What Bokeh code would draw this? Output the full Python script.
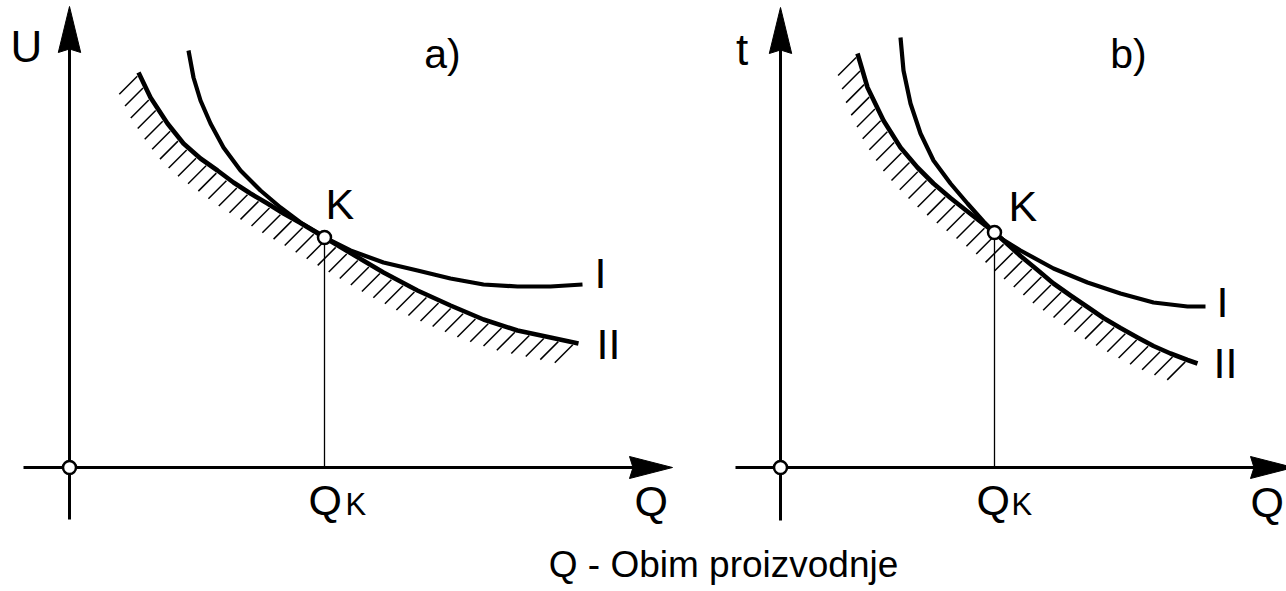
import numpy as np
from bokeh.plotting import figure
from bokeh.models import Range1d
from bokeh.core.properties import value
from bokeh.embed import file_html
from bokeh.resources import INLINE

# ---------------- data (arbitrary units) ----------------
# Panel a) : costs U against output Q
QA_I = [11.9, 12.4, 13.1, 14.1, 15.4, 17.1, 19.1, 21.1, 23.1, 24.8, 25.5, 28.1, 31.4, 34.8, 38.1, 41.4, 44.8, 48.1, 51.3]
UA_I = [41.7, 39.0, 36.7, 34.4, 32.0, 29.7, 27.7, 26.0, 24.5, 23.5, 23.0, 21.7, 20.5, 19.7, 18.9, 18.3, 18.1, 18.1, 18.3]
QA_II = [6.9, 8.1, 9.8, 11.4, 13.1, 14.8, 16.4, 18.1, 19.8, 21.4, 23.1, 25.5, 28.1, 31.4, 34.8, 38.1, 41.4, 44.8, 48.1, 50.9]
UA_II = [39.5, 37.0, 34.4, 32.4, 30.9, 29.7, 28.5, 27.4, 26.4, 25.4, 24.45, 23.0, 21.45, 19.5, 17.7, 16.2, 14.8, 13.7, 13.0, 12.4]
QK_A, UK_A = 25.5, 23.0

# Panel b) : time t against output Q
QB_I = [12.0, 12.3, 13.0, 14.0, 15.3, 17.0, 18.7, 20.3, 21.4, 22.3, 24.0, 27.3, 30.7, 34.0, 37.3, 40.7, 42.5]
TB_I = [43.0, 39.7, 36.4, 33.4, 30.7, 28.4, 26.4, 24.6, 23.5, 22.75, 21.7, 19.9, 18.5, 17.4, 16.5, 16.1, 16.1]
QB_II = [7.7, 8.7, 10.3, 12.0, 13.7, 15.3, 17.0, 18.7, 20.3, 21.4, 22.3, 24.0, 25.7, 27.3, 29.0, 30.7, 32.3, 34.0, 35.7, 37.3, 39.0, 40.7, 41.7]
TB_II = [41.4, 38.0, 34.7, 32.0, 30.0, 28.4, 26.95, 25.6, 24.35, 23.5, 22.7, 21.15, 19.75, 18.4, 17.2, 16.05, 14.95, 13.95, 13.0, 12.15, 11.4, 10.75, 10.4]
QK_B, TK_B = 21.4, 23.5

# axis extents (start, arrow tip)
QAXIS_A = (-4.6, 60.3)
UAXIS_A = (-5.2, 46.1)
QAXIS_B = (-4.5, 51.3)
TAXIS_B = (-5.3, 46.0)

FONT = value("Liberation Sans")

p = figure(width=1286, height=591,
           x_range=Range1d(-6.9, 121.7), y_range=Range1d(-12.4, 46.7),
           output_backend="svg", toolbar_location=None, min_border=0,
           x_axis_type=None, y_axis_type=None)
p.extra_x_ranges = {"b": Range1d(-78.0, 50.6)}
p.outline_line_color = None
p.background_fill_color = "white"
p.border_fill_color = "white"


def panel(qI, uI, qII, uII, qk, uk, qaxis, uaxis, rk):
    kw = {} if rk is None else {"x_range_name": rk}
    qI, uI, qII, uII = map(np.asarray, (qI, uI, qII, uII))

    # hatching under curve II: parallel "/" strokes (constant Q-U along each stroke)
    c = qII - uII
    step = 1.76
    cvals = np.arange(c[0] + 0.25, c[-1], step)
    hq = np.interp(cvals, c, qII)
    hu = np.interp(cvals, c, uII)
    p.segment(x0=hq - 0.2, y0=hu - 0.2, x1=hq - 2.0, y1=hu - 2.0,
              line_color="black", line_width=1.5, **kw)

    # axes
    hl_h, hw_h = 4.3, 1.1
    hl_v, hw_v = 4.6, 1.12
    notch = 0.35
    p.segment(x0=[qaxis[0], 0], y0=[0, uaxis[0]],
              x1=[qaxis[1] - hl_h + 0.5, 0], y1=[0, uaxis[1] - hl_v + 0.5],
              line_color="black", line_width=3, **kw)
    tq, tu = qaxis[1], uaxis[1]
    p.patches(xs=[[tq, tq - hl_h, tq - hl_h + notch, tq - hl_h],
                  [0, -hw_v, 0, hw_v]],
              ys=[[0, hw_h, 0, -hw_h],
                  [tu, tu - hl_v, tu - hl_v + notch, tu - hl_v]],
              fill_color="black", line_color="black", line_width=1, **kw)

    # projection of K to the Q axis
    p.segment(x0=[qk], y0=[uk], x1=[qk], y1=[0], line_color="black", line_width=1.3, **kw)

    # curves
    p.line(qII, uII, line_color="black", line_width=4.6, line_join="round", **kw)
    p.line(qI, uI, line_color="black", line_width=4.2, line_join="round", **kw)

    # origin and point K
    p.scatter(x=[0, qk], y=[0, uk], marker="circle", size=13,
              fill_color="white", line_color="black", line_width=2.5, **kw)


panel(QA_I, UA_I, QA_II, UA_II, QK_A, UK_A, QAXIS_A, UAXIS_A, None)
panel(QB_I, TB_I, QB_II, TB_II, QK_B, TK_B, QAXIS_B, TAXIS_B, "b")

# ---------------- texts ----------------
def txt(x, y, s, size, align="left", rk=None):
    kw = {} if rk is None else {"x_range_name": rk}
    p.text(x=x, y=y, text=s, text_font=FONT, text_font_size=value(f"{size}px"),
           text_align=align, text_baseline="alphabetic", text_color="black", **kw)

# panel a
txt([-4.3], [42.1], ["U"], 44, "center")
txt([37.3], [41.4], ["a)"], 41, "center")
txt([25.6, 52.5, 52.7], [26.4, 19.5, 12.4], ["K", "I", "II"], 43)
txt([23.9, 56.5], [-3.2, -3.3], ["Q", "Q"], 43)
txt([27.6], [-3.7], ["K"], 31)
# panel b
txt([-3.85], [41.8], ["t"], 44, "center", "b")
txt([34.8], [41.4], ["b)"], 41, "center", "b")
txt([22.8, 43.6, 43.3], [26.2, 16.6, 10.5], ["K", "I", "II"], 43, rk="b")
txt([19.6, 47.0], [-3.2, -3.4], ["Q", "Q"], 43, rk="b")
txt([23.1], [-3.7], ["K"], 31, rk="b")
# common caption
txt([65.4], [-9.7], ["Q - Obim proizvodnje"], 37, "center")

open("out.html", "w").write(file_html(p, INLINE))
